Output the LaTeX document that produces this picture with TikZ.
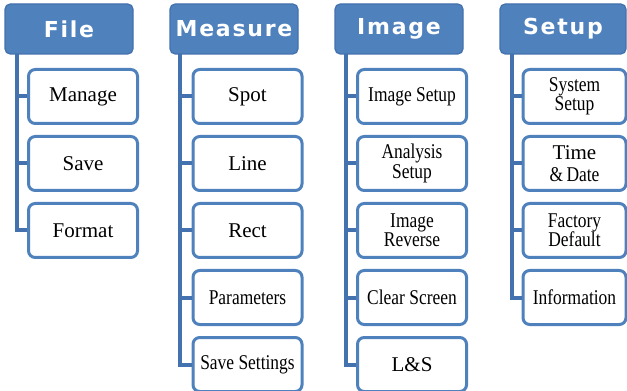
\documentclass[tikz,border=0pt]{standalone}
\usepackage{fontspec}
\setmainfont{Liberation Serif}
\newfontfamily\hdrfont[LetterSpace=8]{DejaVu Sans Bold}
\newfontfamily\condfont[FakeStretch=0.83]{Liberation Serif}
\usetikzlibrary{calc}
\definecolor{obl}{HTML}{4F81BD}
\definecolor{obd}{HTML}{4472AE}
\tikzset{
  hdr/.style={draw=obd, fill=obl, line width=1pt, rounded corners=4pt,
    minimum width=96pt, minimum height=37.5pt, inner sep=0pt,
    text=white, font=\hdrfont\fontsize{16.5pt}{17pt}\selectfont},
  item/.style={draw=obl, fill=white, line width=2.25pt, rounded corners=5pt,
    minimum width=81.75pt, minimum height=40.5pt, inner sep=0pt, align=center,
    font=\rmfamily\fontsize{15.75pt}{14.5pt}\selectfont},
  itemS/.style={item, minimum width=77.25pt},
  spine/.style={draw=obd, line width=3pt},
}
\newcommand{\cnd}[1]{{\condfont #1}}
\begin{document}
\begin{tikzpicture}[x=0.75pt,y=-0.75pt]
\useasboundingbox (0,0) rectangle (627,391);
% headers
\node[hdr] (fH) at (69,29) {File};
\node[hdr] (mH) at (234,29) {Measure};
\node[hdr] (iH) at (399,29) {Image};
\node[hdr, minimum width=94.5pt] (sH) at (563,29) {Setup};
% spine coordinates
\coordinate (fS) at (16.5,54);
\coordinate (mS) at (180,54);
\coordinate (iS) at (346,54);
\coordinate (sS) at (512,54);
% File
\node[item] (f1) at (83,96.5) {Manage};
\node[item] (f2) at (83,163.5) {Save};
\node[item] (f3) at (83,230.5) {Format};
% Measure
\node[item] (m1) at (247.5,96.5) {Spot};
\node[item] (m2) at (247.5,163.5) {Line};
\node[item] (m3) at (247.5,230.5) {Rect};
\node[item] (m4) at (247.5,297.5) {\cnd{Parameters}};
\node[item] (m5) at (247.5,364.5) {\cnd{Save Settings}};
% Image
\node[item] (i1) at (412,96.5) {\cnd{Image Setup}};
\node[item] (i2) at (412,163.5) {\cnd{Analysis}\\\cnd{Setup}};
\node[item] (i3) at (412,230.5) {\cnd{Image}\\\cnd{Reverse}};
\node[item] (i4) at (412,297.5) {\cnd{Clear Screen}};
\node[item] (i5) at (412,364.5) {L\&S};
% Setup
\node[itemS] (s1) at (574.5,96.5) {\cnd{System}\\\cnd{Setup}};
\node[itemS] (s2) at (574.5,163.5) {Time\\[2pt]\cnd{\&\,Date}};
\node[itemS] (s3) at (574.5,230.5) {\cnd{Factory}\\\cnd{Default}};
\node[itemS] (s4) at (574.5,297.5) {\cnd{Information}};
% connectors
\draw[spine] (fS) |- (f3.west);
\draw[spine] (fS |- f1.west) -- (f1.west);
\draw[spine] (fS |- f2.west) -- (f2.west);
\draw[spine] (mS) |- (m5.west);
\foreach \n in {1,2,3,4}{\draw[spine] (mS |- m\n.west) -- (m\n.west);}
\draw[spine] (iS) |- (i5.west);
\foreach \n in {1,2,3,4}{\draw[spine] (iS |- i\n.west) -- (i\n.west);}
\draw[spine] (sS) |- (s4.west);
\foreach \n in {1,2,3}{\draw[spine] (sS |- s\n.west) -- (s\n.west);}
\end{tikzpicture}
\end{document}
